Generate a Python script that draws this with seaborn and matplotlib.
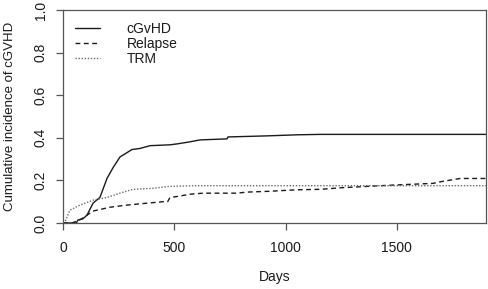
import pandas as pd
import numpy as np
import matplotlib
matplotlib.use("Agg")
import matplotlib.pyplot as plt
import seaborn as sns

# cumulative incidence curves (days, probability)
cgvhd_days = [0, 60, 67, 90, 108, 135, 166, 198, 225, 256, 287, 310, 346, 391, 480, 517, 570, 615, 737, 741, 916, 1051, 1155, 1900]
cgvhd_ci = [0, 0, 0.014, 0.02, 0.037, 0.093, 0.12, 0.21, 0.26, 0.31, 0.33, 0.345, 0.35, 0.363, 0.367, 0.372, 0.381, 0.39, 0.395, 0.404, 0.409, 0.414, 0.416, 0.416]

relapse_days = [0, 40, 60, 85, 108, 135, 211, 287, 377, 450, 470, 481, 517, 570, 630, 780, 826, 930, 1051, 1155, 1258, 1483, 1662, 1703, 1784, 1900]
relapse_ci = [0, 0, 0.008, 0.02, 0.037, 0.056, 0.074, 0.084, 0.093, 0.10, 0.10, 0.12, 0.125, 0.135, 0.14, 0.14, 0.145, 0.149, 0.156, 0.158, 0.166, 0.178, 0.186, 0.195, 0.209, 0.209]

trm_days = [0, 10, 31, 76, 135, 198, 256, 314, 404, 480, 600, 1900]
trm_ci = [0, 0.008, 0.06, 0.084, 0.107, 0.12, 0.14, 0.158, 0.163, 0.172, 0.175, 0.175]

groups = ["cGvHD", "Relapse", "TRM"]

df = pd.concat([
    pd.DataFrame({"day": cgvhd_days, "ci": cgvhd_ci, "event": "cGvHD"}),
    pd.DataFrame({"day": relapse_days, "ci": relapse_ci, "event": "Relapse"}),
    pd.DataFrame({"day": trm_days, "ci": trm_ci, "event": "TRM"}),
])

sns.set_style("ticks")
plt.rcParams["font.family"] = ["Liberation Sans", "DejaVu Sans"]
fs = 10

fig = plt.figure(figsize=(4.89, 2.89), dpi=100)
ax = fig.add_axes([0.1288, 0.2284, 0.865, 0.737])

sns.lineplot(
    data=df, x="day", y="ci", hue="event", style="event",
    hue_order=groups, style_order=groups,
    palette={"cGvHD": "#1a1a1a", "Relapse": "#1a1a1a", "TRM": "#6a6a6a"},
    dashes={"cGvHD": "", "Relapse": (3.5, 2.5), "TRM": (1, 1.2)},
    linewidth=1.0, sort=False, estimator=None, ax=ax
)

ax.set_xlim(0, 1900)
ax.set_ylim(0, 1.0)
ax.set_xticks([0, 500, 1000, 1500])
ax.set_yticks([0, 0.2, 0.4, 0.6, 0.8, 1.0])
ax.set_yticklabels(["0.0", "0.2", "0.4", "0.6", "0.8", "1.0"])
ax.tick_params(axis="both", direction="out", length=5, width=0.9, color="#555555",
               labelsize=fs, labelcolor="#1a1a1a")
ax.tick_params(axis="x", pad=8)
ax.tick_params(axis="y", pad=6, labelrotation=90)
for lab in ax.get_yticklabels():
    lab.set_verticalalignment("center")

for s in ax.spines.values():
    s.set_visible(True)
    s.set_color("#555555")
    s.set_linewidth(0.9)

ax.set_xlabel("Days", fontsize=fs, color="#1a1a1a", labelpad=10.5)
ax.set_ylabel("Cumulative incidence of cGVHD", fontsize=9.5, color="#1a1a1a", labelpad=13)

leg = ax.legend(loc="upper left", bbox_to_anchor=(0.0, 1.0), frameon=False,
                fontsize=fs, handlelength=1.8, handletextpad=1.95, labelspacing=0.08,
                borderaxespad=0.45)
for t in leg.get_texts():
    t.set_color("#1a1a1a")

fig.savefig("out.png", dpi=100)
